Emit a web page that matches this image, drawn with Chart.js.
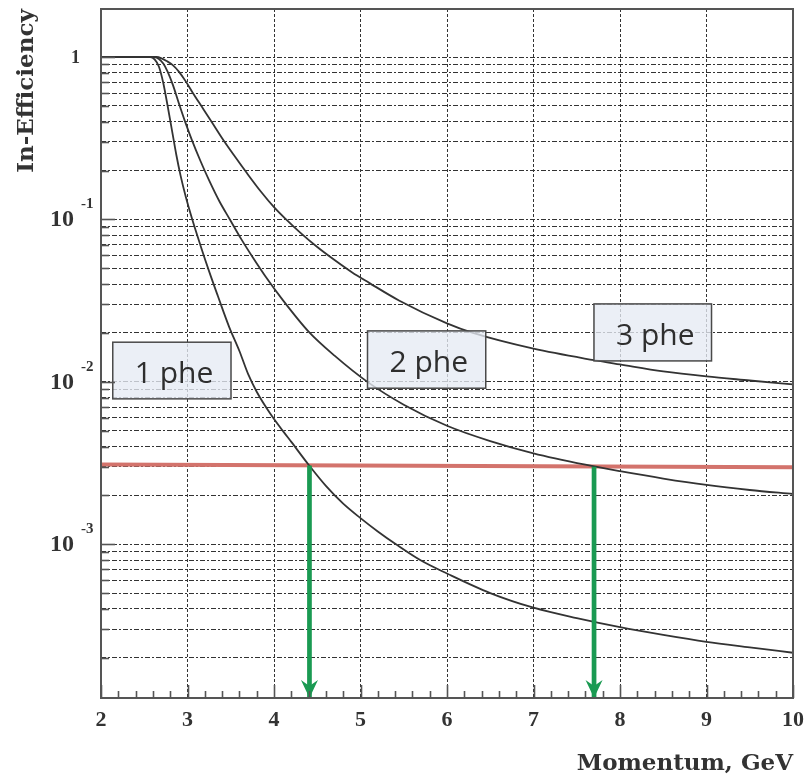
<!DOCTYPE html>
<html><head><meta charset="utf-8">
<script src="https://cdn.jsdelivr.net/npm/chart.js@4"></script>
<style>html,body{margin:0;padding:0;background:#fff}#wrap{width:806px;height:776px;position:relative}</style>
</head><body><div id="wrap"><canvas id="c" width="806" height="776"></canvas></div>
<script>
// ---- axis ticks ----
const xTicks = [2, 3, 4, 5, 6, 7, 8, 9, 10];
const yMajorTicks = [1, 0.1, 0.01, 0.001];
const yTickBase = ['1', '10', '10', '10'];
const yTickExp = ['', '-1', '-2', '-3'];
const yMin = 1.132e-4, yMax = 1.975;

// ---- series ----
const phe1X = [2, 2.57, 2.62, 2.67, 2.72, 2.77, 2.82, 2.87, 2.92, 2.98, 3.05, 3.15, 3.25, 3.35, 3.48, 3.60, 3.70, 3.80, 3.95, 4.10, 4.20, 4.40, 4.60, 4.80, 5.00, 5.20, 5.41, 5.70, 6.00, 6.50, 7.00, 7.50, 8.00, 8.50, 9.00, 9.50, 10.0];
const phe1Y = [1, 1, 0.966, 0.871, 0.692, 0.501, 0.355, 0.251, 0.186, 0.138, 0.102, 0.0692, 0.0479, 0.0339, 0.0219, 0.0155, 0.0112, 0.0087, 0.00646, 0.00501, 0.00427, 0.00309, 0.00229, 0.00178, 0.00145, 0.00120, 0.00100, 0.000794, 0.000661, 0.000501, 0.000407, 0.000351, 0.000309, 0.000277, 0.000251, 0.000232, 0.000215];

const phe2X = [2, 2.62, 2.67, 2.72, 2.77, 2.83, 2.90, 2.97, 3.05, 3.15, 3.25, 3.37, 3.49, 3.62, 3.75, 3.90, 4.10, 4.40, 4.70, 5.08, 5.50, 6.00, 6.50, 7.00, 7.60, 8.00, 8.50, 9.00, 9.50, 10.0];
const phe2Y = [1, 1, 0.973, 0.912, 0.813, 0.676, 0.519, 0.403, 0.309, 0.229, 0.174, 0.129, 0.100, 0.0759, 0.0589, 0.0447, 0.0320, 0.0204, 0.0145, 0.0100, 0.00724, 0.00537, 0.00432, 0.00363, 0.00309, 0.00282, 0.00254, 0.00232, 0.00216, 0.00204];

const phe3X = [2, 2.64, 2.70, 2.76, 2.83, 2.90, 2.98, 3.06, 3.17, 3.28, 3.42, 3.55, 3.68, 3.85, 4.00, 4.14, 4.30, 4.50, 4.70, 4.90, 5.10, 5.45, 6.00, 6.30, 7.00, 7.70, 8.00, 8.50, 9.00, 9.50, 10.0];
const phe3Y = [1, 1, 0.982, 0.944, 0.891, 0.813, 0.708, 0.603, 0.490, 0.398, 0.305, 0.243, 0.195, 0.148, 0.119, 0.100, 0.0832, 0.0676, 0.0562, 0.0473, 0.0407, 0.0316, 0.0229, 0.0200, 0.0160, 0.0136, 0.0128, 0.0116, 0.0108, 0.0102, 0.00964];

// threshold (red line) and arrows (green)
const thresholdX = [2, 10];
const thresholdY = [0.0031, 0.00298];
const arrowX = [4.41, 7.70];
const arrowTopY = [0.00306, 0.00300];

// label boxes in data units
const labelText = ['1 phe', '2 phe', '3 phe'];
const labelX0 = [2.136, 5.081, 7.699];
const labelX1 = [3.503, 6.448, 9.058];
const labelYTop = [0.01755, 0.0206, 0.0302];
const labelYBot = [0.00786, 0.00914, 0.01346];

const pts = (xs, ys) => xs.map((v, i) => ({x: v, y: ys[i]}));

const yGrid = [];
[1e-4, 1e-3, 1e-2, 1e-1].forEach(d => { for (let m = 1; m <= 9; m++) { const v = +(m * d).toPrecision(3); if (v >= yMin && v <= yMax) yGrid.push(v); } });
yGrid.push(1);

const curveStyle = {borderColor: '#333', borderWidth: 1.8, pointRadius: 0, fill: false, cubicInterpolationMode: 'monotone', order: 1};

const datasets = [
  Object.assign({label: '1 phe', data: pts(phe1X, phe1Y)}, curveStyle),
  Object.assign({label: '2 phe', data: pts(phe2X, phe2Y)}, curveStyle),
  Object.assign({label: '3 phe', data: pts(phe3X, phe3Y)}, curveStyle),
  {label: 'threshold', data: pts(thresholdX, thresholdY), borderColor: '#d3736c', borderWidth: 4, pointRadius: 0, order: 2},
];
arrowX.forEach((ax, i) => datasets.push({label: 'arrow' + i, data: [{x: ax, y: arrowTopY[i]}, {x: ax, y: yMin}], borderColor: '#1a9a52', borderWidth: 4.7, pointRadius: 0, borderCapStyle: 'butt', order: 0}));

const overlay = {
  id: 'overlay',
  afterDatasetsDraw(chart) {
    const {ctx, chartArea: a, scales: {x, y}} = chart;
    ctx.save();
    // arrowheads
    ctx.fillStyle = '#1a9a52';
    arrowX.forEach(v => {
      const px = x.getPixelForValue(v), tip = a.bottom;
      ctx.beginPath();
      ctx.moveTo(px, tip);
      ctx.lineTo(px - 8.5, tip - 18);
      ctx.lineTo(px, tip - 12);
      ctx.lineTo(px + 8.5, tip - 18);
      ctx.closePath();
      ctx.fill();
    });
    // label boxes
    labelText.forEach((t, i) => {
      const l = x.getPixelForValue(labelX0[i]), r = x.getPixelForValue(labelX1[i]);
      const tp = y.getPixelForValue(labelYTop[i]), bt = y.getPixelForValue(labelYBot[i]);
      ctx.fillStyle = 'rgba(230,235,243,0.78)';
      ctx.fillRect(l, tp, r - l, bt - tp);
      ctx.strokeStyle = '#4a4a4a'; ctx.lineWidth = 1.5;
      ctx.strokeRect(l, tp, r - l, bt - tp);
      ctx.fillStyle = '#2e2e2e';
      ctx.font = '30px "Open Sans"';
      ctx.textAlign = 'left'; ctx.textBaseline = 'alphabetic';
      ctx.fillText(t, l + 22, tp + 41);
    });
    // frame
    ctx.strokeStyle = '#555'; ctx.lineWidth = 2;
    ctx.strokeRect(a.left, a.top, a.right - a.left, a.bottom - a.top);
    // x tick marks
    ctx.lineWidth = 1.6; ctx.strokeStyle = '#555';
    for (let i = 0; i <= 40; i++) {
      const v = 2 + i * 0.2, px = Math.round(x.getPixelForValue(v)) + 0.5;
      const len = i % 5 === 0 ? 13 : 7;
      ctx.beginPath(); ctx.moveTo(px, a.bottom); ctx.lineTo(px, a.bottom - len); ctx.stroke();
    }
    // y tick marks
    yGrid.forEach(v => {
      const py = Math.round(y.getPixelForValue(v)) + 0.5;
      const len = yMajorTicks.includes(v) ? 14 : 8;
      ctx.beginPath(); ctx.moveTo(a.left, py); ctx.lineTo(a.left + len, py); ctx.stroke();
    });
    // x labels
    ctx.fillStyle = '#333';
    ctx.font = 'bold 22px "Liberation Serif"';
    ctx.textAlign = 'center'; ctx.textBaseline = 'alphabetic';
    xTicks.forEach(v => ctx.fillText(String(v), x.getPixelForValue(v), a.bottom + 28));
    // y labels
    yMajorTicks.forEach((v, i) => {
      const py = y.getPixelForValue(v);
      if (!yTickExp[i]) {
        ctx.font = 'bold 18px "Liberation Serif"';
        ctx.textAlign = 'right';
        ctx.fillText(yTickBase[i], a.left - 21, py + 6);
      } else {
        ctx.font = 'bold 24px "Liberation Serif"';
        ctx.textAlign = 'right';
        ctx.fillText(yTickBase[i], a.left - 27, py + 7);
        ctx.font = 'bold 15px "Liberation Serif"';
        ctx.textAlign = 'left';
        ctx.fillText(yTickExp[i], a.left - 20, py - 11);
      }
    });
    // axis titles
    ctx.font = 'bold 23px "DejaVu Serif"';
    ctx.textAlign = 'right';
    ctx.fillText('Momentum, GeV', a.right, a.bottom + 72);
    ctx.save();
    ctx.translate(33, a.top + 82);
    ctx.rotate(-Math.PI / 2);
    ctx.textAlign = 'center';
    ctx.fillText('In-Efficiency', 0, 0);
    ctx.restore();
    ctx.restore();
  }
};

new Chart(document.getElementById('c'), {
  type: 'line',
  data: {datasets},
  options: {
    responsive: false, animation: false, devicePixelRatio: 1,
    layout: {padding: {left: 101, right: 13, top: 9, bottom: 78}},
    plugins: {legend: {display: false}, tooltip: {enabled: false}},
    scales: {
      x: {type: 'linear', min: 2, max: 10,
        afterBuildTicks: s => { s.ticks = xTicks.map(v => ({value: v})); },
        ticks: {display: false},
        grid: {color: '#333', lineWidth: 1, drawTicks: false},
        border: {display: false, dash: [3, 2]}},
      y: {type: 'logarithmic', min: yMin, max: yMax,
        afterBuildTicks: s => { s.ticks = yGrid.map(v => ({value: v})); },
        ticks: {display: false},
        grid: {color: '#333', lineWidth: 1, drawTicks: false},
        border: {display: false, dash: [5, 2, 2, 2]}}
    }
  },
  plugins: [overlay]
});
</script></body></html>
